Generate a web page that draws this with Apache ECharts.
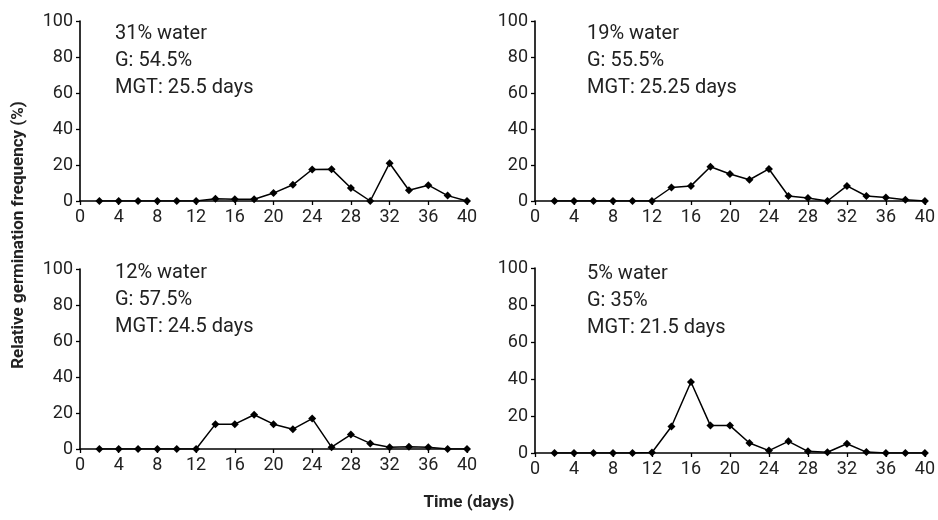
<!DOCTYPE html>
<html><head><meta charset="utf-8">
<script src="https://cdn.jsdelivr.net/npm/echarts@6/dist/echarts.min.js"></script>
<style>html,body{margin:0;padding:0;background:#fff}#c{width:938px;height:520px}</style>
</head><body><div id="c"></div>
<script>
var days = [2,4,6,8,10,12,14,16,18,20,22,24,26,28,30,32,34,36,38,40];
var water31 = [0,0,0,0,0,0,1.3,1,1,4.4,9,17.5,17.7,7.2,0,21,6,8.8,3,0];
var water19 = [0,0,0,0,0,0,7.5,8.4,19,15,11.8,17.8,2.8,1.7,0,8.4,2.8,2,0.7,0];
var water12 = [0,0,0,0,0,0,13.8,13.8,19,13.8,11,16.9,1,8,3.1,1,1.2,1,0,0];
var water5  = [0,0,0,0,0,0.3,14.3,38.4,14.8,14.8,5.4,1.3,6.3,0.9,0.4,5,0.5,0,0,0];
var panelLabels = [
  ["31% water","G: 54.5%","MGT: 25.5 days"],
  ["19% water","G: 55.5%","MGT: 25.25 days"],
  ["12% water","G: 57.5%","MGT: 24.5 days"],
  ["5% water","G: 35%","MGT: 21.5 days"]
];
var yTicks = [0,20,40,60,80,100];
var xTicks = [0,4,8,12,16,20,24,28,32,36,40];
var yTitle = "Relative germination frequency (%)";
var xTitle = "Time (days)";

var FONT = "Roboto,'Liberation Sans',sans-serif";
var seriesData = [water31, water19, water12, water5];
var grids = [
  {left:80, top:21, width:387, height:180},
  {left:535, top:21, width:395, height:180},
  {left:80, top:269, width:387, height:180},
  {left:535, top:268, width:395, height:185}
];
var textPos = [[115,20],[587,20],[115,259],[587,260]];

var xAxes = [], yAxes = [], series = [], graphics = [];
grids.forEach(function(g,i){
  xAxes.push({gridIndex:i, type:'value', min:0, max:40, interval:4,
    axisLine:{show:true, onZero:false, lineStyle:{color:'#000', width:1.6}},
    axisTick:{show:true, length:4, lineStyle:{color:'#000', width:1.3}},
    splitLine:{show:false},
    axisLabel:{color:'#222', fontSize:18, fontFamily:FONT, margin:7}
  });
  yAxes.push({gridIndex:i, type:'value', min:0, max:100, interval:20,
    axisLine:{show:true, lineStyle:{color:'#000', width:1.6}},
    axisTick:{show:true, length:4, lineStyle:{color:'#000', width:1.3}},
    splitLine:{show:false},
    axisLabel:{color:'#222', fontSize:18, fontFamily:FONT, margin:7}
  });
  series.push({type:'line', xAxisIndex:i, yAxisIndex:i,
    data: days.map(function(d,k){return [d, seriesData[i][k]];}),
    symbol:'diamond', symbolSize:8, showSymbol:true,
    lineStyle:{color:'#000', width:1.5},
    itemStyle:{color:'#000'}, animation:false, z:3
  });
  graphics.push({type:'text', left:textPos[i][0], top:textPos[i][1],
    style:{text:panelLabels[i].join('\n'), fill:'#222', font:'20px '+FONT, lineHeight:27}});
});
graphics.push({type:'text', x:19, y:235, rotation:Math.PI/2,
  style:{text:yTitle, fill:'#222', font:'bold 17px '+FONT, align:'center', verticalAlign:'middle'}});
graphics.push({type:'text', left:'center', top:494,
  style:{text:xTitle, fill:'#222', font:'bold 17px '+FONT}});

var chart = echarts.init(document.getElementById('c'));
chart.setOption({
  animation:false,
  grid:grids, xAxis:xAxes, yAxis:yAxes, series:series,
  graphic:graphics
});
</script></body></html>
